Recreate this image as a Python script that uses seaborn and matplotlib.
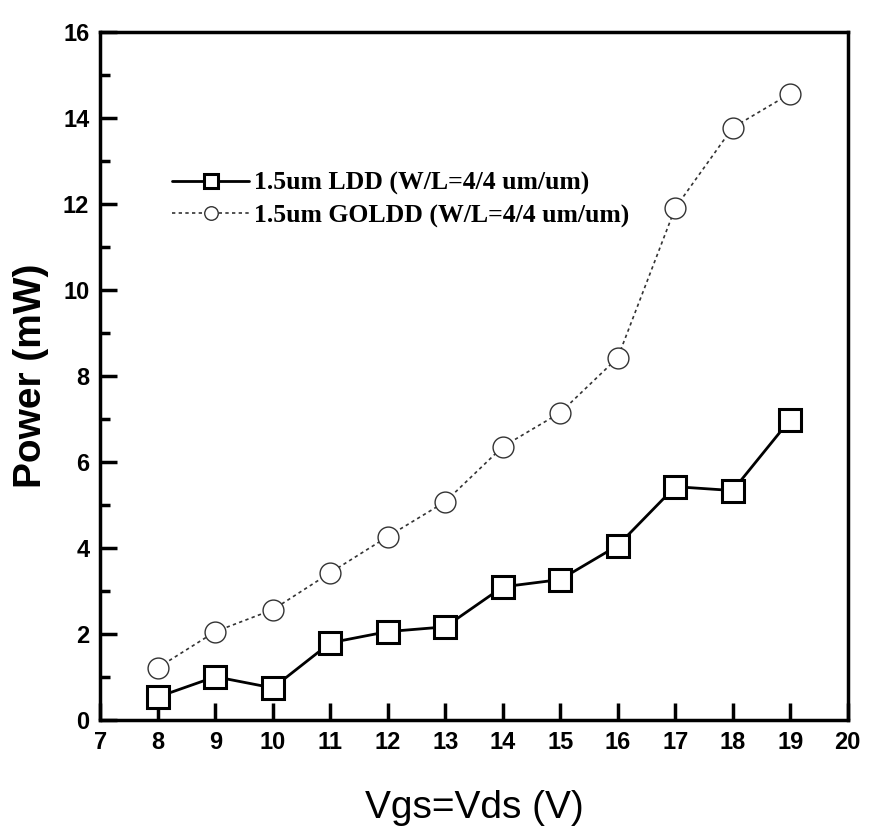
import seaborn as sns
import matplotlib.pyplot as plt
import pandas as pd
import numpy as np
from matplotlib.ticker import MultipleLocator

# values
vgs = [8, 9, 10, 11, 12, 13, 14, 15, 16, 17, 18, 19]
ldd_power = [0.53, 1.0, 0.74, 1.79, 2.05, 2.16, 3.09, 3.26, 4.05, 5.42, 5.33, 6.98]
goldd_power = [1.21, 2.05, 2.56, 3.42, 4.26, 5.07, 6.35, 7.14, 8.42, 11.9, 13.77, 14.56]
ldd_label = "1.5um LDD (W/L=4/4 um/um)"
goldd_label = "1.5um GOLDD (W/L=4/4 um/um)"

sns.set_style("ticks", {"text.color": "black", "axes.labelcolor": "black",
                        "xtick.color": "black", "ytick.color": "black",
                        "axes.edgecolor": "black"})
plt.rcParams['font.family'] = ['Liberation Sans', 'DejaVu Sans']

df = pd.DataFrame({"vgs": vgs + vgs,
                   "power": ldd_power + goldd_power,
                   "device": [ldd_label] * len(vgs) + [goldd_label] * len(vgs)})

fig = plt.figure(figsize=(8.73, 8.34), dpi=100)
ax = fig.add_axes([0.115, 0.137, 0.856, 0.825])

sns.lineplot(data=df[df.device == ldd_label], x="vgs", y="power", ax=ax,
             color="black", lw=2, marker="s", markersize=16, markerfacecolor="white",
             markeredgecolor="black", markeredgewidth=2.2, label=ldd_label)
sns.lineplot(data=df[df.device == goldd_label], x="vgs", y="power", ax=ax,
             color="#333333", lw=1.2, ls=(0, (2, 2)), marker="o", markersize=15,
             markerfacecolor="white", markeredgecolor="#333333", markeredgewidth=1.0,
             label=goldd_label)

ax.set_xlim(7, 20)
ax.set_ylim(0, 16)
ax.xaxis.set_major_locator(MultipleLocator(1))
ax.yaxis.set_major_locator(MultipleLocator(2))
ax.yaxis.set_minor_locator(MultipleLocator(1))
ax.tick_params(which="both", direction="in", width=2.5)
ax.tick_params(which="major", length=12, labelsize=17, pad=8)
ax.tick_params(which="minor", length=7)
for lab in ax.get_xticklabels() + ax.get_yticklabels():
    lab.set_fontweight("bold")
for s in ax.spines.values():
    s.set_linewidth(2.5)

ax.set_xlabel("Vgs=Vds (V)", fontsize=28, labelpad=26)
ax.set_ylabel("Power (mW)", fontsize=28, fontweight="bold", labelpad=10)

leg = ax.legend(loc="upper left", bbox_to_anchor=(0.065, 0.83), frameon=False,
                prop={"family": "Liberation Serif", "weight": "bold", "size": 18.5},
                handlelength=3.0, handletextpad=0.2, labelspacing=0.35, markerscale=0.65)

fig.savefig("out.png", dpi=100)
